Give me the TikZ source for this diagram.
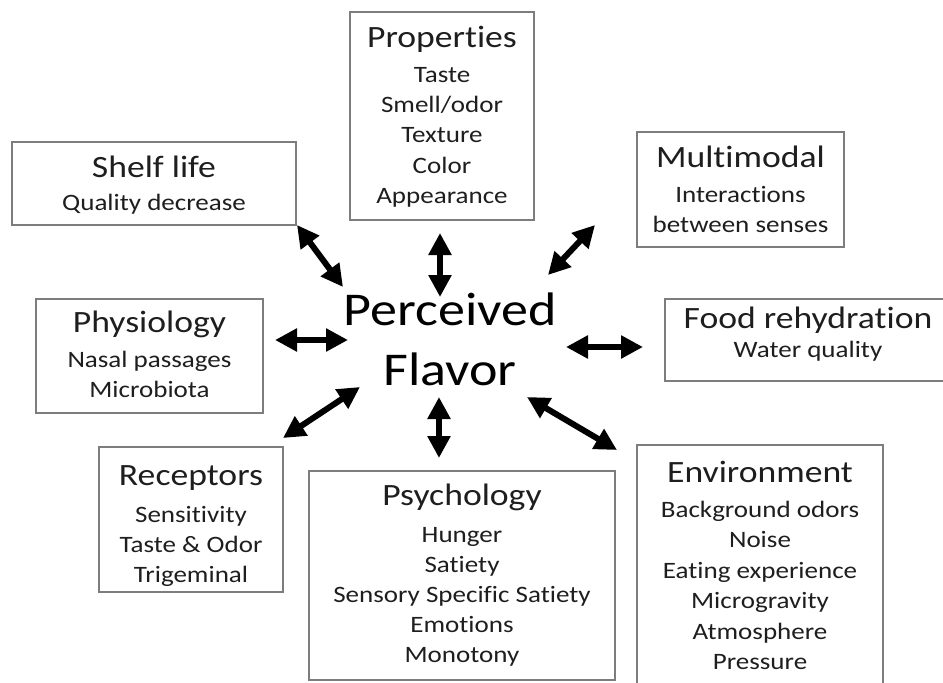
\documentclass[tikz,border=0pt]{standalone}
\usepackage{fontspec}
\setmainfont{Carlito}[FakeStretch=1.15,Ligatures=NoCommon,Contextuals=NoAlternate]
\usetikzlibrary{arrows.meta}
\definecolor{boxgray}{RGB}{125,125,125}
\definecolor{txt}{RGB}{30,30,30}
\tikzset{
  box/.style={draw=boxgray, line width=1.6pt, inner sep=0pt, fill=none},
  ttl/.style={anchor=base, inner sep=0pt, text=txt, font=\fontsize{31}{36}\selectfont},
  itm/.style={anchor=base, inner sep=0pt, text=txt, font=\fontsize{23.5}{28}\selectfont},
  ctr/.style={anchor=base, inner sep=0pt, text=black, font=\fontsize{47}{56}\selectfont},
  link/.style={line width=6pt, black, {Triangle[length=22pt,width=22pt]}-{Triangle[length=22pt,width=22pt]}}
}
\begin{document}
\begin{tikzpicture}[x=1pt,y=-1pt]
\useasboundingbox (0,0) rectangle (943,683);
\clip (0,0) rectangle (943,683);
% boxes
\node[box, minimum width=284pt, minimum height=83pt] (shelf) at (154,183.5) {};
\node[box, minimum width=227pt, minimum height=114pt] (phys) at (149.5,356) {};
\node[box, minimum width=184pt, minimum height=145pt] (rec) at (191,519.5) {};
\node[box, minimum width=184pt, minimum height=208pt] (prop) at (442,116) {};
\node[box, minimum width=207pt, minimum height=115pt] (multi) at (740.5,189.5) {};
\node[box, minimum width=286pt, minimum height=82pt] (food) at (808,340) {};
\node[box, minimum width=246pt, minimum height=270pt] (env) at (760,580) {};
\node[box, minimum width=306pt, minimum height=209pt] (psych) at (462,575.5) {};
% texts
\node[ttl] (shelfT) at (154,177) {Shelf life};
\node[itm] (shelf1) at (154,210) {Quality decrease};
\node[ttl] (physT) at (149.5,332) {Physiology};
\node[itm] (phys1) at (149.5,367) {Nasal passages};
\node[itm] (phys2) at (149.5,397) {Microbiota};
\node[ttl] (recT) at (191,485) {Receptors};
\node[itm] (rec1) at (191,522) {Sensitivity};
\node[itm] (rec2) at (191,552) {Taste \& Odor};
\node[itm] (rec3) at (191,582) {Trigeminal};
\node[ttl] (propT) at (442,47) {Properties};
\node[itm] (prop1) at (442,82) {Taste};
\node[itm] (prop2) at (442,112) {Smell/odor};
\node[itm] (prop3) at (442,142) {Texture};
\node[itm] (prop4) at (442,173) {Color};
\node[itm] (prop5) at (442,203) {Appearance};
\node[ttl] (multiT) at (740.5,167) {Multimodal};
\node[itm] (multi1) at (740.5,202) {Interactions};
\node[itm] (multi2) at (740.5,232) {between senses};
\node[ttl] (foodT) at (808,328) {Food rehydration};
\node[itm] (food1) at (808,357) {Water quality};
\node[ttl] (envT) at (760,482) {Environment};
\node[itm] (env1) at (760,517) {Background odors};
\node[itm] (env2) at (760,547.5) {Noise};
\node[itm] (env3) at (760,578) {Eating experience};
\node[itm] (env4) at (760,608.5) {Microgravity};
\node[itm] (env5) at (760,639) {Atmosphere};
\node[itm] (env6) at (760,669.5) {Pressure};
\node[ttl] (psychT) at (462,505) {Psychology};
\node[itm] (psych1) at (462,542) {Hunger};
\node[itm] (psych2) at (462,572) {Satiety};
\node[itm] (psych3) at (462,602) {Sensory Specific Satiety};
\node[itm] (psych4) at (462,632) {Emotions};
\node[itm] (psych5) at (462,662) {Monotony};
% centre
\node[ctr] (pf1) at (450,325) {Perceived};
\node[ctr] (pf2) at (450,385) {Flavor};
% arrow end points
\coordinate (a1s) at (297,225); \coordinate (a1e) at (343,287);
\coordinate (a2s) at (440,233); \coordinate (a2e) at (440,297);
\coordinate (a3s) at (595,225); \coordinate (a3e) at (548,275);
\coordinate (a4s) at (275,340); \coordinate (a4e) at (348,340);
\coordinate (a5s) at (643,347); \coordinate (a5e) at (566,347);
\coordinate (a6s) at (283,438); \coordinate (a6e) at (360,387);
\coordinate (a7s) at (439,458); \coordinate (a7e) at (439,397);
\coordinate (a8s) at (617,450); \coordinate (a8e) at (527,397);
\foreach \i in {1,...,8} {\draw[link] (a\i s) -- (a\i e);}
\end{tikzpicture}
\end{document}
